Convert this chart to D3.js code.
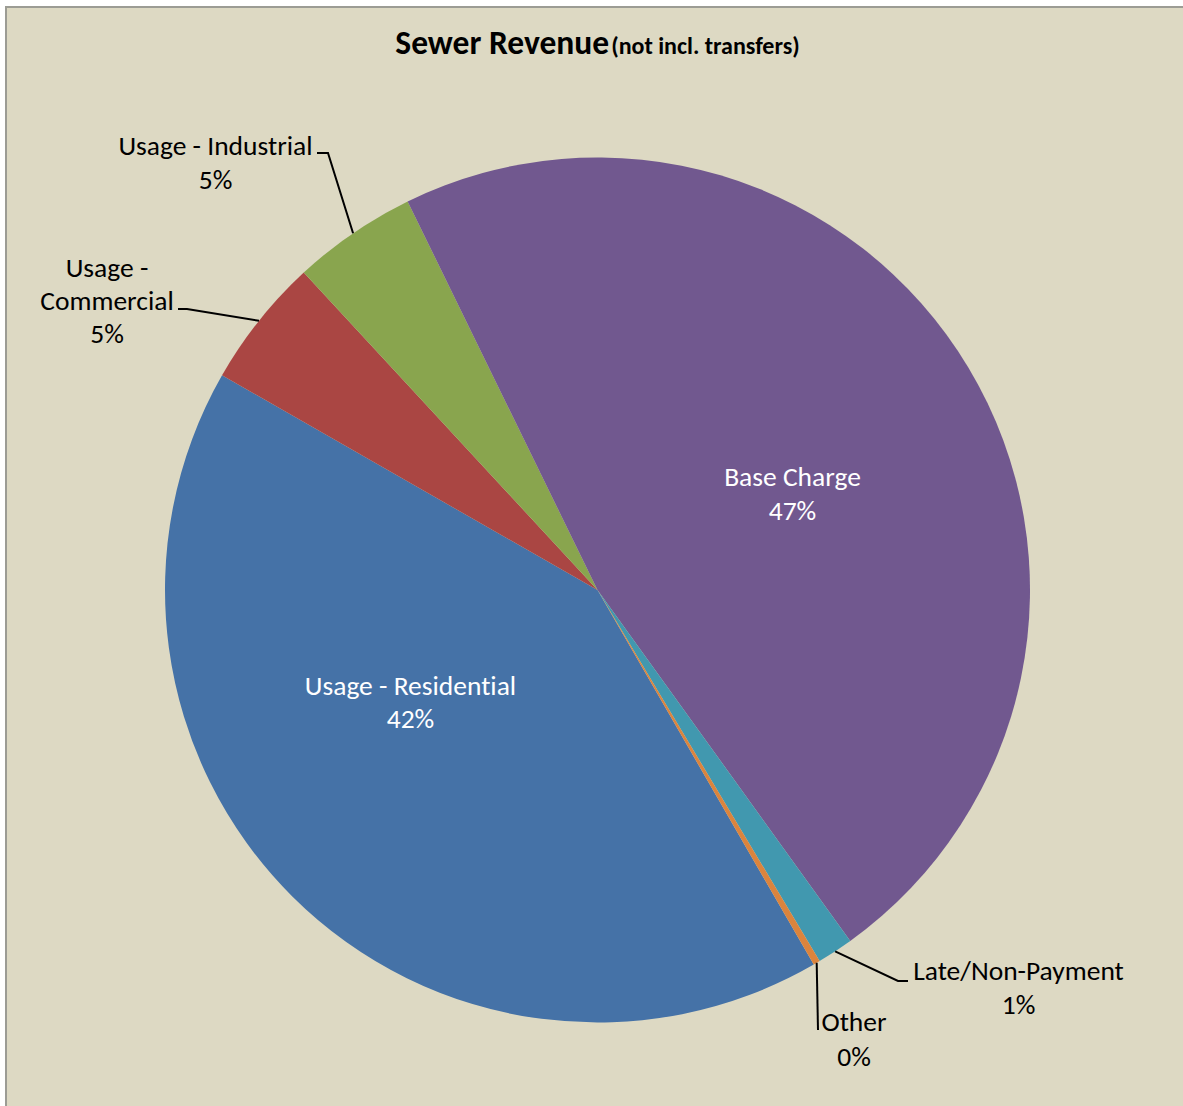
<!DOCTYPE html>
<html>
<head>
<meta charset="utf-8">
<script src="https://cdn.jsdelivr.net/npm/d3@7"></script>
<style>
  html, body { margin: 0; padding: 0; background: #ffffff; }
  svg { display: block; }
  text { font-family: Carlito, Calibri, Lato, "Open Sans", sans-serif; font-variant-ligatures: none; }
</style>
</head>
<body>
<svg id="chart" width="1183" height="1106"></svg>
<script>
// Sewer revenue share by source (percent of total, excluding transfers)
const categories = ["Usage - Residential", "Usage - Commercial", "Usage - Industrial",
                    "Base Charge", "Late/Non-Payment", "Other"];
const shares = [41.6, 4.85, 4.65, 47.3, 1.35, 0.25];
const colors = ["#4572A7", "#AA4643", "#89A54E", "#71588F", "#4198AF", "#DB843D"];
const titleMain = "Sewer Revenue";
const titleSub = "(not incl. transfers)";

const W = 1183, H = 1106;
const cx = 597.5, cy = 590, R = 432.5;
const startDeg = 150;

const svg = d3.select("#chart");

// chart area with its frame
svg.append("rect")
  .attr("x", 6).attr("y", 7)
  .attr("width", W + 10).attr("height", H + 10)
  .attr("fill", "#DDD9C3")
  .attr("stroke", "#9C9C94").attr("stroke-width", 2);

// title
const title = svg.append("text")
  .attr("x", cx).attr("y", 54)
  .attr("text-anchor", "middle")
  .attr("font-weight", "bold")
  .attr("fill", "#000");
title.append("tspan").attr("font-size", 33.5).text(titleMain);
title.append("tspan").attr("font-size", 24).attr("dx", 2).text(titleSub);

const data = categories.map((c, i) => ({ name: c, value: shares[i], color: colors[i] }));
const total = d3.sum(shares);

const pie = d3.pie()
  .sort(null)
  .value(d => d.value)
  .startAngle(startDeg * Math.PI / 180)
  .endAngle((startDeg + 360) * Math.PI / 180);

const arcs = pie(data);
const arc = d3.arc().innerRadius(0).outerRadius(R);

const g = svg.append("g").attr("transform", `translate(${cx},${cy})`);
g.selectAll("path.slice")
  .data(arcs)
  .join("path")
  .attr("class", "slice")
  .attr("d", arc)
  .attr("fill", d => d.data.color);

const pct = v => Math.round(v / total * 100) + "%";

// label placement: inside labels sit in the slice body, outside ones use leader lines
const layout = {
  "Usage - Residential": { inside: true, x: 410.5, lines: [695, 728] },
  "Base Charge": { inside: true, x: 792.5, lines: [486, 520] },
  "Usage - Industrial": { x: 215.5, lines: [155, 189], split: false,
                          leader: [[317, 153], [328, 153]] },
  "Usage - Commercial": { x: 107, lines: [277, 310, 343], split: true,
                          leader: [[178, 309], [187, 309]] },
  "Late/Non-Payment": { x: 1018.5, lines: [980, 1014],
                        leader: [[908, 981], [898, 981]] },
  "Other": { x: 854, lines: [1031, 1066], leader: [[818, 1030]] }
};

const labelSize = 27.5;
arcs.forEach(a => {
  const L = layout[a.data.name];
  const textLines = L.split ? ["Usage -", "Commercial"] : [a.data.name];
  textLines.push(pct(a.data.value));
  const t = svg.append("text")
    .attr("text-anchor", "middle")
    .attr("font-size", labelSize)
    .attr("fill", L.inside ? "#ffffff" : "#000000");
  textLines.forEach((s, i) => {
    t.append("tspan").attr("x", L.x).attr("y", L.lines[i]).text(s);
  });
  if (L.leader) {
    const mid = (a.startAngle + a.endAngle) / 2;
    const edge = [cx + R * Math.sin(mid), cy - R * Math.cos(mid)];
    const pts = L.leader.concat([edge]);
    svg.append("path")
      .attr("d", d3.line()(pts))
      .attr("fill", "none")
      .attr("stroke", "#000")
      .attr("stroke-width", 2);
  }
});
</script>
</body>
</html>
